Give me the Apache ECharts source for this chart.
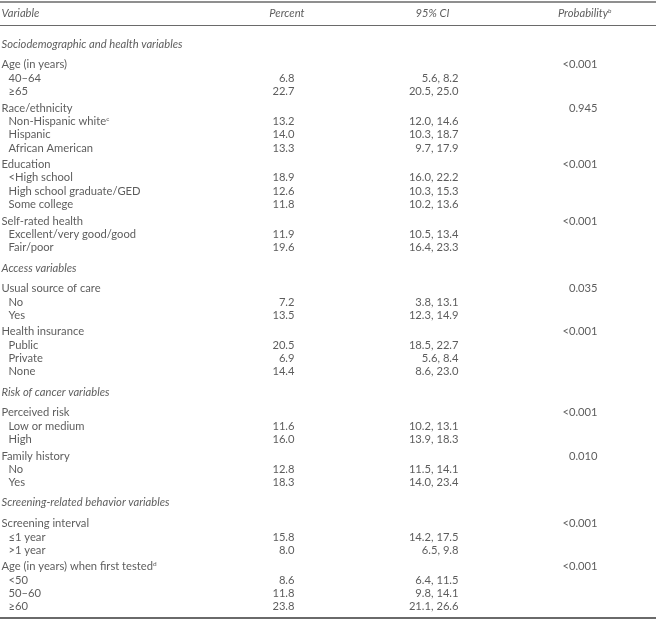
<!DOCTYPE html>
<html><head><meta charset="utf-8">
<script src="https://cdn.jsdelivr.net/npm/echarts@6/dist/echarts.min.js"></script>
<style>html,body{margin:0;padding:0;background:#fff}#c{width:656px;height:622px}</style>
</head><body><div id="c"></div>
<script>
// ---- data ----
var headers = ['Variable', 'Percent', '95% CI', 'Probability'];
var headerSup = ['', '', '', 'b'];
var rowKinds = ['section','group','item','item','group','item','item','item','group','item','item','item','group','item','item',
  'section','group','item','item','group','item','item','item',
  'section','group','item','item','group','item','item',
  'section','group','item','item','group','item','item','item'];
var rowLabels = ['Sociodemographic and health variables','Age (in years)','40–64','≥65','Race/ethnicity','Non-Hispanic white','Hispanic','African American',
  'Education','<High school','High school graduate/GED','Some college','Self-rated health','Excellent/very good/good','Fair/poor',
  'Access variables','Usual source of care','No','Yes','Health insurance','Public','Private','None',
  'Risk of cancer variables','Perceived risk','Low or medium','High','Family history','No','Yes',
  'Screening-related behavior variables','Screening interval','≤1 year','>1 year','Age (in years) when first tested','<50','50–60','≥60'];
var rowSup = {5:'c', 34:'d'};
var percent = [null,null,6.8,22.7,null,13.2,14.0,13.3,null,18.9,12.6,11.8,null,11.9,19.6,
  null,null,7.2,13.5,null,20.5,6.9,14.4,
  null,null,11.6,16.0,null,12.8,18.3,
  null,null,15.8,8.0,null,8.6,11.8,23.8];
var ciLow = [null,null,5.6,20.5,null,12.0,10.3,9.7,null,16.0,10.3,10.2,null,10.5,16.4,
  null,null,3.8,12.3,null,18.5,5.6,8.6,
  null,null,10.2,13.9,null,11.5,14.0,
  null,null,14.2,6.5,null,6.4,9.8,21.1];
var ciHigh = [null,null,8.2,25.0,null,14.6,18.7,17.9,null,22.2,15.3,13.6,null,13.4,23.3,
  null,null,13.1,14.9,null,22.7,8.4,23.0,
  null,null,13.1,18.3,null,14.1,23.4,
  null,null,17.5,9.8,null,11.5,14.1,26.6];
var probability = [null,'<0.001',null,null,'0.945',null,null,null,'<0.001',null,null,null,'<0.001',null,null,
  null,'0.035',null,null,'<0.001',null,null,null,
  null,'<0.001',null,null,'0.010',null,null,
  null,'<0.001',null,null,'<0.001',null,null,null];

// ---- layout ----
var L = {
  headerY: 14, firstY: 44.5,
  stepItem: 13.35, stepGroup: 16.5, stepAfterSection: 20.7, stepSection: 20.2,
  xGroup: 2, xItem: 9, xPercent: 295, xPercentHead: 305, xCI: 459, xCIHead: 433,
  xProb: 598, xProbHead: 612,
  rules: [{y:1.5,w:1.5},{y:25.5,w:1},{y:617.5,w:2}]
};
var ys = [];
var y = L.firstY;
for (var i = 0; i < rowKinds.length; i++) {
  if (i > 0) {
    var k = rowKinds[i], pk = rowKinds[i-1];
    if (k === 'section') y += L.stepSection;
    else if (pk === 'section') y += L.stepAfterSection;
    else if (k === 'group') y += L.stepGroup;
    else y += L.stepItem;
  }
  ys.push(y);
}
var FONT = 'Lato';
var COLOR = '#333333';
var FS = 11.2;
var rich = {
  t: {fontFamily: FONT, fontSize: FS, color: COLOR},
  ti: {fontFamily: FONT, fontSize: FS, color: COLOR, fontStyle: 'italic'},
  s: {fontFamily: FONT, fontSize: 6.5, color: COLOR, verticalAlign: 'top', padding: [0,0,5,0]},
  si: {fontFamily: FONT, fontSize: 6.5, color: COLOR, fontStyle: 'italic', verticalAlign: 'top', padding: [0,0,5,0]}
};
function cell(x, y, text, align, italic, sup) {
  var f = '{' + (italic ? 'ti' : 't') + '|' + text + '}';
  if (sup) f += '{' + (italic ? 'si' : 's') + '|' + sup + '}';
  return {value: [x, y], label: {show: true, position: [0, 0], align: align, verticalAlign: 'middle', formatter: f, rich: rich}};
}
var data = [];
data.push(cell(L.xGroup, L.headerY, headers[0], 'left', true, headerSup[0]));
data.push(cell(L.xPercentHead, L.headerY, headers[1], 'right', true, headerSup[1]));
data.push(cell(L.xCIHead, L.headerY, headers[2], 'center', true, headerSup[2]));
data.push(cell(L.xProbHead, L.headerY, headers[3], 'right', true, headerSup[3]));
for (var r = 0; r < rowKinds.length; r++) {
  var kind = rowKinds[r];
  data.push(cell(kind === 'item' ? L.xItem : L.xGroup, ys[r], rowLabels[r], 'left', kind === 'section', rowSup[r]));
  if (percent[r] != null) data.push(cell(L.xPercent, ys[r], percent[r].toFixed(1), 'right', false));
  if (ciLow[r] != null) data.push(cell(L.xCI, ys[r], ciLow[r].toFixed(1) + ', ' + ciHigh[r].toFixed(1), 'right', false));
  if (probability[r] != null) data.push(cell(L.xProb, ys[r], probability[r], 'right', false));
}

var chart = echarts.init(document.getElementById('c'));
chart.setOption({
  animation: false,
  grid: {left: 0, right: 0, top: 0, bottom: 0},
  xAxis: {type: 'value', min: 0, max: 656, show: false},
  yAxis: {type: 'value', min: 0, max: 622, inverse: true, show: false},
  series: [{
    type: 'scatter', symbol: 'circle', symbolSize: 1, itemStyle: {color: 'rgba(0,0,0,0)'}, silent: true,
    data: data,
    markLine: {
      silent: true, symbol: 'none', label: {show: false},
      data: L.rules.map(function (o) { return {yAxis: o.y, lineStyle: {color: '#6a6a6a', width: o.w, type: 'solid'}}; })
    }
  }]
});
</script></body></html>
